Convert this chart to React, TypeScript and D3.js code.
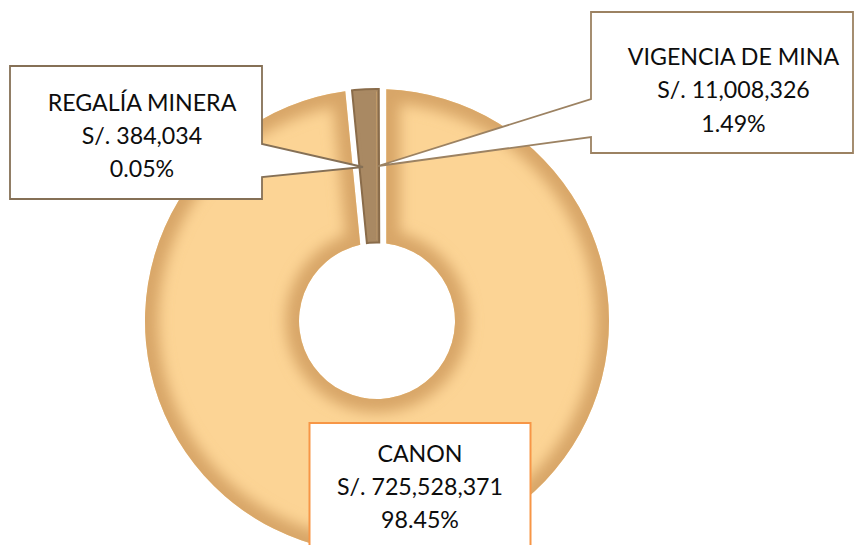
import React from "react";
import * as d3 from "d3";

const categories = ["CANON", "VIGENCIA DE MINA", "REGALÍA MINERA"];
const values = [725528371, 11008326, 384034];
const sliceColors = ["#FCD495", "#A98963", "#C9A06A"];

const W = 854;
const H = 545;
const CX = 377;
const CY = 321;
const R_OUT = 232;
const R_IN = 78;
const FONT = "Lato, 'Open Sans', sans-serif";

export default function App() {
  const total = d3.sum(values);
  const pie = d3
    .pie<number>()
    .sort(null)
    .value((d) => d)
    .startAngle(0)
    .endAngle(2 * Math.PI);
  const arcs = pie(values);

  const canonArc = d3
    .arc<d3.PieArcDatum<number>>()
    .innerRadius(R_IN)
    .outerRadius(R_OUT)
    .padAngle(2 * Math.asin(9.3 / R_OUT))
    .padRadius(R_OUT);
  const smallArc = d3
    .arc<d3.PieArcDatum<number>>()
    .innerRadius(R_IN + 3)
    .outerRadius(R_OUT - 2.5);

  const canonPath = canonArc(arcs[0]) || "";
  const vigPath = smallArc(arcs[1]) || "";
  const regPath = smallArc(arcs[2]) || "";

  const pct = (v: number) => d3.format(".2%")(v / total);
  const money = (v: number) => "S/. " + d3.format(",")(v);

  const labelLines = (i: number) => [categories[i], money(values[i]), pct(values[i])];

  const textStyle: React.CSSProperties = {
    fontFamily: FONT,
    fontSize: 23.2,
    fill: "#0d0d0d",
  };

  const renderText = (i: number, x: number, y0: number, dy: number) =>
    labelLines(i).map((t, k) => (
      <text
        key={k}
        x={x}
        y={y0 + k * dy}
        textAnchor="middle"
        dominantBaseline="central"
        style={textStyle}
      >
        {t}
      </text>
    ));

  return (
    <svg
      width={W}
      height={H}
      style={{ position: "absolute", left: 0, top: 0, background: "#fff" }}
    >
      <defs>
        <clipPath id="clipCanon">
          <path d={canonPath} transform={`translate(${CX},${CY})`} />
        </clipPath>
        <filter id="soft" x="-20%" y="-20%" width="140%" height="140%">
          <feGaussianBlur stdDeviation="7" />
        </filter>
      </defs>

      {/* Canon slice */}
      <g>
        <path d={canonPath} transform={`translate(${CX},${CY})`} fill={sliceColors[0]} />
        <g clipPath="url(#clipCanon)">
          <path
            d={canonPath}
            transform={`translate(${CX},${CY})`}
            fill="none"
            stroke="#D8A668"
            strokeWidth={27}
            filter="url(#soft)"
          />
        </g>
      </g>

      {/* Vigencia and Regalía slices */}
      <g transform={`translate(${CX},${CY})`}>
        <path d={vigPath} fill="#8A6C4A" stroke="#8A6C4A" strokeWidth={7} strokeLinejoin="miter" />
        <path d={vigPath} fill={sliceColors[1]} stroke={sliceColors[1]} strokeWidth={3} strokeLinejoin="miter" />
        <path d={regPath} fill={sliceColors[2]} />
      </g>

      {/* Regalía callout */}
      <path
        d={`M10,66 H262 V144 L363,167 L262,177 V199 H10 Z`}
        fill="#fff"
        stroke="#857056"
        strokeWidth={1.8}
        strokeLinejoin="miter"
      />
      {renderText(2, 142, 102, 33)}

      {/* Vigencia callout */}
      <path
        d={`M591,12 H853 V153 H591 V137 L378,166 L591,99 Z`}
        fill="#fff"
        stroke="#9C8262"
        strokeWidth={1.8}
        strokeLinejoin="miter"
      />
      {renderText(1, 733.5, 55.5, 33.5)}

      {/* Canon callout */}
      <rect x={309.5} y={423} width={221} height={140} fill="#fff" stroke="#F79646" strokeWidth={2} />
      {renderText(0, 420, 453, 33)}
    </svg>
  );
}
